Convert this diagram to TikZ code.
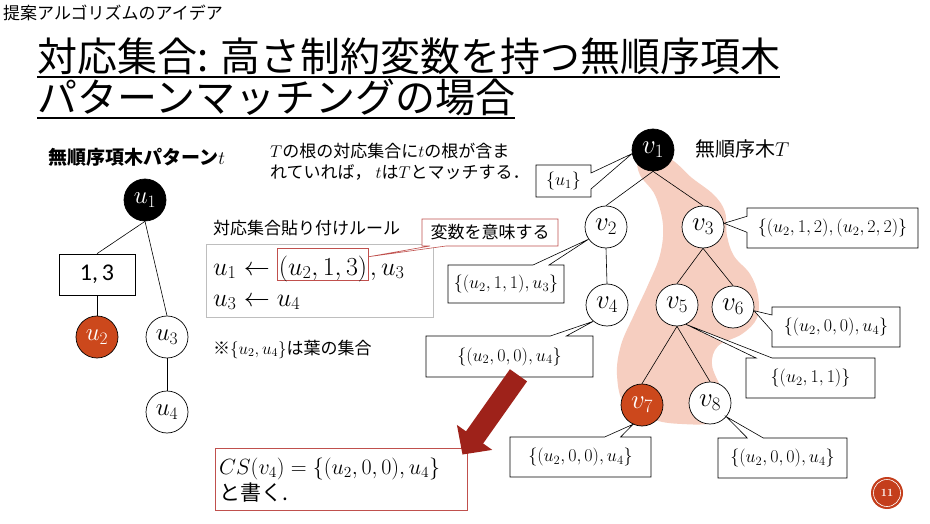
\RequirePackage{fix-cm}
\documentclass[tikz,border=0pt]{standalone}
\usepackage{fontspec}
\newfontfamily\jp{Noto Sans CJK JP}
\newfontfamily\calibrifont{Carlito}
\usetikzlibrary{shapes.callouts,arrows.meta}
\newcommand\myfs[1]{\fontsize{#1}{#1}\selectfont}
\definecolor{nodeorange}{RGB}{204,72,28}
\definecolor{blobpink}{RGB}{246,206,192}
\definecolor{boxred}{RGB}{192,80,77}
\definecolor{arrowred}{RGB}{158,34,26}
\definecolor{rulegray}{RGB}{190,190,190}
\definecolor{badgecol}{RGB}{196,62,28}
\tikzset{
  tnode/.style={circle, draw, line width=0.7pt, minimum size=42pt, inner sep=0pt, fill=white, font=\myfs{25}},
  blacknode/.style={tnode, fill=black, text=white},
  orangenode/.style={tnode, fill=nodeorange, text=white},
  edge/.style={line width=0.6pt},
  cbox/.style={rectangle callout, draw, fill=white, line width=0.6pt, inner sep=1pt, callout pointer width=16pt, font=\myfs{18}},
  txt/.style={anchor=base west, inner sep=0pt},
}
\begin{document}
\begin{tikzpicture}[x=1pt,y=-1pt]
\useasboundingbox (0,0) rectangle (930,524);
\fill[white] (0,0) rectangle (930,524);

% header and title
\node[txt, font=\jp\myfs{17}] (hdr) at (3,20) {提案アルゴリズムのアイデア};
\node[txt, font=\jp\myfs{40}] (t1) at (37,72) {対応集合: 高さ制約変数を持つ無順序項木};
\node[txt, font=\jp\myfs{40}] (t2) at (37,113) {パターンマッチングの場合};
\draw[line width=1.6pt] ([yshift=-5pt]t1.base west) -- ([yshift=-5pt]t1.base east);
\draw[line width=1.6pt] ([yshift=-5pt]t2.base west) -- ([yshift=-5pt]t2.base east);

% left tree
\node[txt, font=\jp\bfseries\myfs{19}] (ltitle) at (48,165) {無順序項木パターン$t$};
\node[blacknode] (u1) at (145,200) {$u_1$};
\node[draw, line width=0.7pt, minimum width=76pt, minimum height=41pt, inner sep=0pt, font=\calibrifont\myfs{24}] (w13) at (97,274.5) {1,\,3};
\node[orangenode] (u2) at (97,337) {$u_2$};
\node[tnode] (u3) at (167,337) {$u_3$};
\node[tnode] (u4) at (167,412) {$u_4$};
\draw[edge] (u1.south) -- (w13.north);
\draw[edge] (w13.south) -- (u2.north);
\draw[edge] (u1.south) -- (u3.north);
\draw[edge] (u3.south) -- (u4.north);

% middle texts
\node[txt, font=\jp\myfs{17}] (m1) at (270,158) {$T$の根の対応集合に$t$の根が含ま};
\node[txt, font=\jp\myfs{17}] (m2) at (270,179) {れていれば，\ $t$は$T$とマッチする．};
\node[txt, font=\jp\myfs{17}] (rtitle) at (213,234) {対応集合貼り付けルール};
\node[draw=rulegray, line width=1pt, minimum width=227pt, minimum height=72pt, inner sep=0pt] (rulebox) at (319.5,281) {};
\node[txt, font=\myfs{26}] (r1a) at (213,275) {$u_1 \leftarrow$};
\node[anchor=base west, draw=boxred, line width=0.7pt, inner xsep=1.5pt, inner ysep=0pt, text height=27pt, text depth=5pt, font=\myfs{26}] (r1b) at ([xshift=7pt]r1a.base east) {$(u_2,1,3)$};
\node[anchor=base west, inner xsep=0.5pt, inner ysep=0pt, font=\myfs{26}] (r1c) at (r1b.base east) {$,u_3$};
\node[txt, font=\myfs{26}] (r2) at (213,306) {$u_3 \leftarrow u_4$};
\node[cbox, draw=boxred, minimum width=136pt, minimum height=27pt, font=\jp\myfs{17}, callout absolute pointer={([yshift=-9pt]r1b.north east)}] (hint) at (490,232.5) {変数を意味する};
\node[txt, font=\jp\myfs{17}] (leaves) at (213,354) {※$\{u_2,u_4\}$は葉の集合};

% right tree
\fill[blobpink] plot[smooth cycle, tension=0.6] coordinates {
 (640,160) (668,158) (692,178) (714,195) (725,212) (727,236) (734,256) (750,274)
 (758,295) (757,318) (742,334) (718,346) (712,365) (722,390) (729,410) (712,423)
 (682,424) (655,420) (625,405) (617,375) (621,345) (634,315) (648,285) (660,255)
 (663,225) (655,195) (640,175)};
\node[txt, font=\jp\myfs{20}] (rtt) at (695,157) {無順序木$T$};
\node[blacknode, font=\myfs{27}] (v1) at (653,150) {$v_1$};
\node[tnode, font=\myfs{27}] (v2) at (606,227) {$v_2$};
\node[tnode, font=\myfs{27}] (v3) at (703,227) {$v_3$};
\node[tnode, font=\myfs{27}] (v4) at (607,305) {$v_4$};
\node[tnode, font=\myfs{27}] (v5) at (677,305) {$v_5$};
\node[tnode, font=\myfs{27}] (v6) at (733,307) {$v_6$};
\node[orangenode, font=\myfs{27}] (v7) at (642,405) {$v_7$};
\node[tnode, font=\myfs{27}] (v8) at (710,403) {$v_8$};
\draw[edge] (v1.south) -- (v2.north);
\draw[edge] (v1.south) -- (v3.north);
\draw[edge] (v2.south) -- (v4.north);
\draw[edge] (v3.south) -- (v5.north);
\draw[edge] (v3.south) -- (v6.north);
\draw[edge] (v5.south) -- (v7.north);
\draw[edge] (v5.south) -- (v8.north);

% callouts
\node[cbox, minimum width=55pt, minimum height=32pt, callout absolute pointer={(v1.190)}] (c1) at (563.5,181) {$\{u_1\}$};
\node[cbox, minimum width=116pt, minimum height=38pt, callout absolute pointer={(v2.215)}] (c2) at (506,284) {$\{(u_2,1,1),u_3\}$};
\node[cbox, minimum width=171pt, minimum height=40pt, callout absolute pointer={(v3.10)}] (c3) at (832.5,228) {$\{(u_2,1,2),(u_2,2,2)\}$};
\node[cbox, minimum width=167pt, minimum height=41pt, callout absolute pointer={(v4.230)}] (c4) at (509.5,356.5) {$\{(u_2,0,0),u_4\}$};
\node[cbox, minimum width=128pt, minimum height=40pt, callout absolute pointer={(v6.-10)}] (c6) at (836,327) {$\{(u_2,0,0),u_4\}$};
\node[cbox, minimum width=129pt, minimum height=40pt, callout absolute pointer={(v5.-65)}] (c5) at (810.5,378) {$\{(u_2,1,1)\}$};
\node[cbox, minimum width=141pt, minimum height=40pt, callout absolute pointer={(v7.245)}] (c7) at (580.5,457) {$\{(u_2,0,0),u_4\}$};
\node[cbox, minimum width=129pt, minimum height=40pt, callout absolute pointer={(v8.-40)}] (c8) at (782.5,458) {$\{(u_2,0,0),u_4\}$};

% CS box and arrow
\node[draw=boxred, line width=0.9pt, minimum width=252pt, minimum height=62pt, inner sep=0pt] (cs) at (341,479) {};
\node[txt, font=\myfs{22}] (cs1) at (219,474) {$CS(v_4) = \{(u_2,0,0),u_4\}$};
\node[txt, font=\jp\myfs{21}] (cs2) at (219,500) {と書く.};
\coordinate (arst) at ([xshift=9pt,yshift=2pt]c4.south);
\coordinate (aren) at ([xshift=-5pt,yshift=-7pt]cs.north east);
\draw[arrowred, line width=21pt, -{Triangle[length=21pt,width=42pt]}] (arst) -- (aren);

% page badge
\node[circle, fill=badgecol, minimum size=32pt, inner sep=0pt, text=white, font=\bfseries\myfs{11}] (pg) at (887,493) {11};
\draw[white, line width=0.6pt] (pg.center) circle (13.5);
\end{tikzpicture}
\end{document}
